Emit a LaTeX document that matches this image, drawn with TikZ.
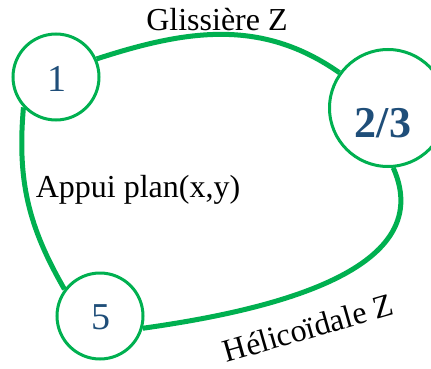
\documentclass[tikz,border=0pt]{standalone}
\usepackage{fontspec}
\setmainfont{Liberation Serif}
\definecolor{lgreen}{RGB}{0,176,80}
\definecolor{numblue}{RGB}{31,78,121}
\begin{document}
\begin{tikzpicture}[x=1pt,y=1pt,
  ring/.style={circle,draw=lgreen,line width=3pt,inner sep=0pt},
  num/.style={text=numblue,inner sep=0pt},
  link/.style={draw=lgreen,line width=5pt},
  lab/.style={inner sep=0pt,font=\fontsize{32}{38}\selectfont}]
\useasboundingbox (0,0) rectangle (431,-369);
\node[ring,minimum size=86pt] (n1) at (56,-77) {};
\node[ring,minimum size=117pt] (n23) at (388,-108) {};
\node[ring,minimum size=86pt] (n5) at (100,-316) {};
\node[num,font=\fontsize{38}{44}\selectfont] (t1) at (57,-79) {1};
\node[num,font=\fontsize{44}{50}\selectfont\bfseries] (t23) at (383,-123) {2/3};
\node[num,font=\fontsize{38}{44}\selectfont] (t5) at (101,-317) {5};
\draw[link] (n1.24) to[out=18,in=145] (n23.144);
\draw[link] (n1.223) to[out=-95,in=120] (n5.143);
\draw[link] (n5.-16) to[out=8,in=-66] (n23.-85);
\node[lab] (g) at (217,-20) {Glissière Z};
\node[lab] (a) at (138,-190) {Appui plan(x,y)};
\node[lab,rotate=16] (h) at (308,-328) {Hélicoïdale Z};
\end{tikzpicture}
\end{document}
